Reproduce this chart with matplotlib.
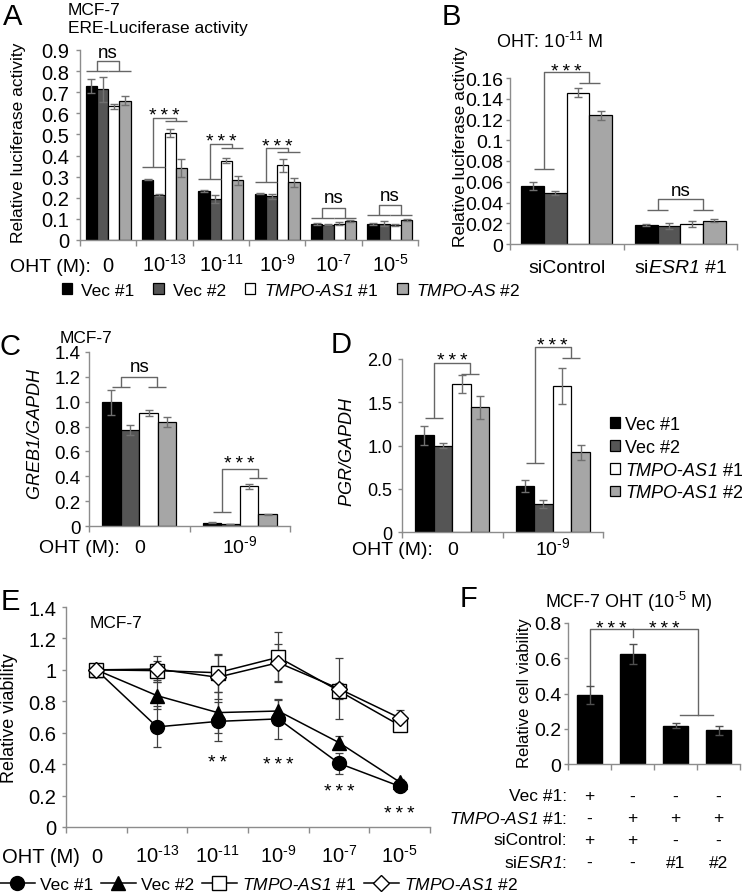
import numpy as np
import matplotlib
matplotlib.use("Agg")
import matplotlib.pyplot as plt
from matplotlib.patches import Patch
from matplotlib.lines import Line2D

plt.rcParams['font.family'] = ['Liberation Sans', 'DejaVu Sans']
plt.rcParams['mathtext.fontset'] = 'custom'
plt.rcParams['mathtext.rm'] = 'Liberation Sans'
plt.rcParams['mathtext.it'] = 'Liberation Sans:italic'
plt.rcParams['mathtext.sf'] = 'Liberation Sans:italic'   # italic incl. digits (gene names)
plt.rcParams['mathtext.default'] = 'regular'

# ---------------- data ----------------
bar_colors = ['#000000', '#555555', '#ffffff', '#a6a6a6']
tmpo1 = r'$\mathsf{TMPO}$-$\mathsf{AS1}$ #1'
tmpo2 = r'$\mathsf{TMPO}$-$\mathsf{AS1}$ #2'
legend_a_labels = ['Vec #1', 'Vec #2', tmpo1, r'$\mathsf{TMPO}$-$\mathsf{AS}$ #2']
legend_labels = ['Vec #1', 'Vec #2', tmpo1, tmpo2]

# A: ERE-luciferase, 6 OHT doses
a_doses = ['0', r'10$^{\text{-13}}$', r'10$^{\text{-11}}$', r'10$^{\text{-9}}$',
           r'10$^{\text{-7}}$', r'10$^{\text{-5}}$']
a_vec1 = [0.728, 0.285, 0.231, 0.219, 0.077, 0.077]
a_vec2 = [0.713, 0.214, 0.195, 0.208, 0.073, 0.077]
a_tmpo1 = [0.633, 0.507, 0.376, 0.354, 0.077, 0.070]
a_tmpo2 = [0.660, 0.342, 0.282, 0.274, 0.090, 0.093]
a_err_vec1 = [0.034, 0.003, 0.004, 0.003, 0.005, 0.004]
a_err_vec2 = [0.060, 0.006, 0.020, 0.012, 0.004, 0.012]
a_err_tmpo1 = [0.012, 0.017, 0.011, 0.030, 0.008, 0.004]
a_err_tmpo2 = [0.020, 0.043, 0.020, 0.022, 0.003, 0.005]
a_sig = ['ns', '***', '***', '***', 'ns', 'ns']
a_sig_left = [0.80, 0.344, 0.288, 0.277, 0.106, 0.117]
a_sig_top = [0.85, 0.578, 0.457, 0.435, 0.15, 0.166]
a_sig_right = [0.80, 0.562, 0.438, 0.418, 0.106, 0.117]
a_sig_y = [0.889, 0.62, 0.494, 0.47, 0.201, 0.209]

# B: OHT 1e-11 M, siControl vs siESR1
b_groups = ['siControl', r'si$\mathsf{ESR1}$ #1']
b_vec1 = [0.0562, 0.0186]
b_vec2 = [0.0495, 0.0177]
b_tmpo1 = [0.146, 0.0196]
b_tmpo2 = [0.124, 0.0225]
b_err_vec1 = [0.004, 0.001]
b_err_vec2 = [0.002, 0.003]
b_err_tmpo1 = [0.004, 0.003]
b_err_tmpo2 = [0.004, 0.0015]
b_sig = ['***', 'ns']
b_sig_left = [0.0723, 0.0328]
b_sig_top = [0.166, 0.0434]
b_sig_right = [0.155, 0.0328]
b_sig_y = [0.172, 0.0514]

# C: GREB1/GAPDH
cd_doses = ['0', r'10$^{\text{-9}}$']
c_vec1 = [0.996, 0.027]
c_vec2 = [0.773, 0.016]
c_tmpo1 = [0.91, 0.318]
c_tmpo2 = [0.835, 0.094]
c_err_vec1 = [0.10, 0.003]
c_err_vec2 = [0.04, 0.002]
c_err_tmpo1 = [0.025, 0.018]
c_err_tmpo2 = [0.04, 0.004]
c_sig = ['ns', '***']
c_sig_left = [1.121, 0.11]
c_sig_top = [1.201, 0.459]
c_sig_right = [1.121, 0.384]
c_sig_y = [1.28, 0.553]

# D: PGR/GAPDH
d_vec1 = [1.119, 0.53]
d_vec2 = [0.996, 0.323]
d_tmpo1 = [1.71, 1.69]
d_tmpo2 = [1.44, 0.92]
d_err_vec1 = [0.11, 0.07]
d_err_vec2 = [0.03, 0.05]
d_err_tmpo1 = [0.10, 0.21]
d_err_tmpo2 = [0.13, 0.09]
d_sig = ['***', '***']
d_sig_left = [1.32, 0.80]
d_sig_top = [1.954, 2.14]
d_sig_right = [1.83, 2.01]
d_sig_y = [2.05, 2.22]

# E: relative viability
e_vec1 = [1.0, 0.637, 0.672, 0.688, 0.405, 0.259]
e_vec2 = [1.0, 0.836, 0.728, 0.738, 0.537, 0.286]
e_tmpo1 = [1.0, 0.995, 0.982, 1.08, 0.866, 0.647]
e_tmpo2 = [1.0, 1.005, 0.953, 1.046, 0.88, 0.694]
e_err_vec1 = [0.0, 0.13, 0.125, 0.125, 0.065, 0.03]
e_err_vec2 = [0.0, 0.085, 0.13, 0.07, 0.04, 0.02]
e_err_tmpo1 = [0.0, 0.06, 0.12, 0.16, 0.05, 0.03]
e_err_tmpo2 = [0.0, 0.085, 0.14, 0.12, 0.195, 0.05]
e_sig = ['', '', '**', '***', '***', '***']
e_sig_y = [0, 0, 0.45, 0.435, 0.265, 0.127]

# F: MCF-7 OHT 1e-5 M
f_vals = [0.39, 0.625, 0.218, 0.191]
f_errs = [0.05, 0.055, 0.015, 0.025]
f_row_labels = ['Vec #1:', r'$\mathsf{TMPO}$-$\mathsf{AS1}$ #1:', 'siControl:', r'si$\mathsf{ESR1}$:']
f_rows = [['+', '-', '-', '-'],
          ['-', '+', '+', '+'],
          ['+', '+', '-', '-'],
          ['-', '-', '#1', '#2']]

# ---------------- drawing ----------------
W, H = 742, 895
GRAY = '#8c8c8c'
BR = '#666666'
fig = plt.figure(figsize=(W / 100, H / 100), dpi=100)


def add_ax(left, top, right, bottom):
    return fig.add_axes([left / W, 1 - bottom / H, (right - left) / W, (bottom - top) / H])


def ftext(x, y, s, **kw):
    fig.text(x / W, 1 - y / H, s, **kw)


def style(ax, n, top, yticks, ylabels, fs, pad=4):
    ax.set_xlim(-0.5, n - 0.5)
    ax.set_ylim(0, top)
    for s in ['top', 'right']:
        ax.spines[s].set_visible(False)
    for s in ['left', 'bottom']:
        ax.spines[s].set_color(GRAY)
        ax.spines[s].set_linewidth(1)
    ax.set_xticks(np.arange(n + 1) - 0.5)
    ax.set_xticklabels([])
    ax.set_yticks(yticks)
    ax.set_yticklabels(ylabels, fontsize=fs)
    ax.tick_params(color=GRAY, labelcolor='black', length=3, width=1, pad=pad)
    ax.tick_params(axis='x', length=4)
    ax.patch.set_alpha(0)


def xlabels(ax, labels, off, fs):
    for i, lab in enumerate(labels):
        ax.annotate(lab, xy=(i, 0), xycoords=('data', 'axes fraction'), xytext=(0, -off),
                    textcoords='offset pixels', ha='center', va='baseline', fontsize=fs)


def grouped_bars(ax, vals, errs, width, offsets):
    for i in range(4):
        ax.bar(np.arange(len(vals[i])) + offsets[i], vals[i], width, color=bar_colors[i],
               edgecolor='black', linewidth=0.9, yerr=errs[i],
               error_kw=dict(ecolor='#707070', elinewidth=1, capsize=3, capthick=1), zorder=2)


def sig_text(ax, x, y, s, fs=14):
    if '*' in s:
        s = '\u2009'.join(s)
        ax.annotate(s, xy=(x, y), xytext=(0, -6), textcoords='offset pixels',
                    ha='center', va='center', fontsize=fs, annotation_clip=False)
    else:
        ax.annotate(s, xy=(x, y), ha='center', va='center', fontsize=13.5,
                    annotation_clip=False)


def brackets(ax, left, top, right, labels, ty, dx, cap):
    for i in range(len(left)):
        xl, xr = i - dx, i + dx
        kw = dict(color=BR, lw=1, clip_on=False, solid_capstyle='butt')
        ax.plot([xl - cap, xl + cap], [left[i], left[i]], **kw)
        ax.plot([xl, xl, xr, xr], [left[i], top[i], top[i], right[i]], **kw)
        ax.plot([xr - cap, xr + cap], [right[i], right[i]], **kw)
        sig_text(ax, i, ty[i], labels[i])


offs4 = [-0.3, -0.1, 0.1, 0.3]
offs_cd = [-0.2775, -0.0925, 0.0925, 0.2775]

# ---- A ----
ax_a = add_ax(80, 51, 418, 241)
grouped_bars(ax_a, [a_vec1, a_vec2, a_tmpo1, a_tmpo2],
             [a_err_vec1, a_err_vec2, a_err_tmpo1, a_err_tmpo2], 0.2, offs4)
style(ax_a, 6, 0.9, np.arange(0, 0.91, 0.1),
      ['0'] + ['%.1f' % v for v in np.arange(0.1, 0.91, 0.1)], 14.5, pad=5)
brackets(ax_a, a_sig_left, a_sig_top, a_sig_right, a_sig, a_sig_y, 0.2, 0.2)
xlabels(ax_a, a_doses, 31, 14.5)
ftext(10, 272, 'OHT (M):', fontsize=14, va='baseline')
ftext(19, 143, 'Relative luciferase activity', fontsize=12.5, rotation=90, ha='center', va='center')
ftext(13, 25, 'A', fontsize=21, ha='center', va='baseline')
ftext(68, 15, 'MCF-7', fontsize=12.5, va='baseline')
ftext(68, 33, 'ERE-Luciferase activity', fontsize=12.5, va='baseline')
fig.legend([Patch(facecolor=c, edgecolor='black', linewidth=0.9) for c in bar_colors], legend_a_labels,
           loc='center left', bbox_to_anchor=(62 / W, 1 - 291 / H), ncol=4, frameon=False,
           fontsize=12.5, handlelength=0.6, handleheight=0.6, handletextpad=0.5,
           columnspacing=1.1, borderpad=0, borderaxespad=0)

# ---- B ----
ax_b = add_ax(510, 79, 737, 245)
grouped_bars(ax_b, [b_vec1, b_vec2, b_tmpo1, b_tmpo2],
             [b_err_vec1, b_err_vec2, b_err_tmpo1, b_err_tmpo2], 0.2, offs4)
style(ax_b, 2, 0.16, np.arange(0, 0.161, 0.02),
      ['0', '0.02', '0.04', '0.06', '0.08', '0.1', '0.12', '0.14', '0.16'], 14, pad=2)
brackets(ax_b, b_sig_left, b_sig_top, b_sig_right, b_sig, b_sig_y, 0.2, 0.09)
xlabels(ax_b, b_groups, 28, 14)
ftext(461, 147, 'Relative luciferase activity', fontsize=12.5, rotation=90, ha='center', va='center')
ftext(451, 25, 'B', fontsize=21, ha='center', va='baseline')
ftext(550, 48, r'OHT: 10$^{\text{-11}}$ M', fontsize=13, ha='center', va='baseline')

# ---- C ----
ax_c = add_ax(89, 353, 290, 527)
grouped_bars(ax_c, [c_vec1, c_vec2, c_tmpo1, c_tmpo2],
             [c_err_vec1, c_err_vec2, c_err_tmpo1, c_err_tmpo2], 0.185, offs_cd)
style(ax_c, 2, 1.4, np.arange(0, 1.41, 0.2),
      ['0'] + ['%.1f' % v for v in np.arange(0.2, 1.41, 0.2)], 13.5, pad=3)
brackets(ax_c, c_sig_left, c_sig_top, c_sig_right, c_sig, c_sig_y, 0.18, 0.09)
xlabels(ax_c, cd_doses, 26, 14)
ftext(39, 553, 'OHT (M):', fontsize=14, va='baseline')
ftext(36, 434, r'$\mathsf{GREB1/GAPDH}$', fontsize=13, rotation=90, ha='center', va='center')
ftext(10, 355, 'C', fontsize=21, ha='center', va='baseline')
ftext(60, 343, 'MCF-7', fontsize=12.5, va='baseline')

# ---- D ----
ax_d = add_ax(402, 360, 603, 533)
grouped_bars(ax_d, [d_vec1, d_vec2, d_tmpo1, d_tmpo2],
             [d_err_vec1, d_err_vec2, d_err_tmpo1, d_err_tmpo2], 0.185, offs_cd)
style(ax_d, 2, 2.0, [0, 0.5, 1.0, 1.5, 2.0], ['0', '0.5', '1.0', '1.5', '2.0'], 13, pad=4)
brackets(ax_d, d_sig_left, d_sig_top, d_sig_right, d_sig, d_sig_y, 0.18, 0.09)
xlabels(ax_d, cd_doses, 22, 14)
ftext(352, 555, 'OHT (M):', fontsize=14, va='baseline')
ftext(348, 452, r'$\mathsf{PGR/GAPDH}$', fontsize=13, rotation=90, ha='center', va='center')
ftext(341, 353, 'D', fontsize=21, ha='center', va='baseline')
fig.legend([Patch(facecolor=c, edgecolor='black', linewidth=0.9) for c in bar_colors], legend_labels,
           loc='upper left', bbox_to_anchor=(610 / W, 1 - 417 / H), frameon=False,
           fontsize=13, handlelength=0.55, handleheight=0.55, handletextpad=0.3,
           labelspacing=0.32, borderpad=0, borderaxespad=0)

# ---- E ----
ax_e = add_ax(66, 608, 430, 828)
e_series = [(e_vec1, e_err_vec1, 'o', 'black', 10),
            (e_vec2, e_err_vec2, '^', 'black', 10),
            (e_tmpo1, e_err_tmpo1, 's', 'white', 9.5),
            (e_tmpo2, e_err_tmpo2, 'D', 'white', 8)]
handles = []
for vals, errs, mk, fc, ms in e_series:
    ax_e.errorbar(np.arange(6), vals, yerr=errs, fmt='none', ecolor='#404040', elinewidth=0.9,
                  capsize=3, capthick=0.9, zorder=2)
for vals, errs, mk, fc, ms in e_series:
    ax_e.plot(np.arange(6), vals, color='black', lw=1.1, marker=mk, markerfacecolor=fc,
              markeredgecolor='black', markeredgewidth=1, markersize=ms, zorder=3, clip_on=False)
    handles.append(Line2D([], [], color='black', lw=1.1, marker=mk, markerfacecolor=fc,
                          markeredgecolor='black', markersize=ms))
style(ax_e, 6, 1.4, np.arange(0, 1.41, 0.2),
      ['0', '0.2', '0.4', '0.6', '0.8', '1', '1.2', '1.4'], 14.5, pad=4)
for i, s in enumerate(e_sig):
    if s:
        sig_text(ax_e, i, e_sig_y[i], s)
xlabels(ax_e, a_doses, 35, 14.5)
ftext(2, 863, 'OHT (M)', fontsize=14.5, va='baseline')
ftext(10, 718, 'Relative viability', fontsize=13, rotation=90, ha='center', va='center')
ftext(10, 610, 'E', fontsize=21, ha='center', va='baseline')
ftext(90, 628, 'MCF-7', fontsize=12.5, va='baseline')
fig.legend(handles, legend_labels, loc='center left', bbox_to_anchor=(0, 1 - 885 / H), ncol=4,
           frameon=False, fontsize=12.5, handlelength=2.0, handletextpad=0.3, columnspacing=0.45,
           borderpad=0, borderaxespad=0)

# ---- F ----
ax_f = add_ax(568, 624, 740, 765)
ax_f.bar(np.arange(4), f_vals, 0.6, color='black', edgecolor='black', yerr=f_errs,
         error_kw=dict(ecolor='#505050', elinewidth=1, capsize=3, capthick=1), zorder=2)
style(ax_f, 4, 0.8, [0, 0.2, 0.4, 0.6, 0.8], ['0', '0.2', '0.4', '0.6', '0.8'], 14, pad=2)
fkw = dict(color=BR, lw=1, clip_on=False)
ax_f.plot([0, 0, 2.52, 2.52], [0.44, 0.767, 0.767, 0.279], **fkw)
ax_f.plot([1, 1], [0.767, 0.72], **fkw)
ax_f.plot([2.1, 2.87], [0.279, 0.279], **fkw)
sig_text(ax_f, 0.5, 0.80, '***')
sig_text(ax_f, 1.73, 0.80, '***')
for r, (lab, row) in enumerate(zip(f_row_labels, f_rows)):
    y = 797 + 22 * r
    ftext(567, y, lab, fontsize=12.5, ha='right', va='center')
    for c, v in enumerate(row):
        ax_f.annotate(v, xy=(c, 0), xycoords=('data', 'axes fraction'), xytext=(0, -(y - 765)),
                      textcoords='offset pixels', ha='center', va='center', fontsize=12.5)
ftext(525, 693, 'Relative cell viability', fontsize=12, rotation=90, ha='center', va='center')
ftext(469, 607, 'F', fontsize=21, ha='center', va='baseline')
ftext(629, 608, r'MCF-7 OHT (10$^{\text{-5}}$ M)', fontsize=13, ha='center', va='baseline')

fig.savefig('out.png', dpi=100)
